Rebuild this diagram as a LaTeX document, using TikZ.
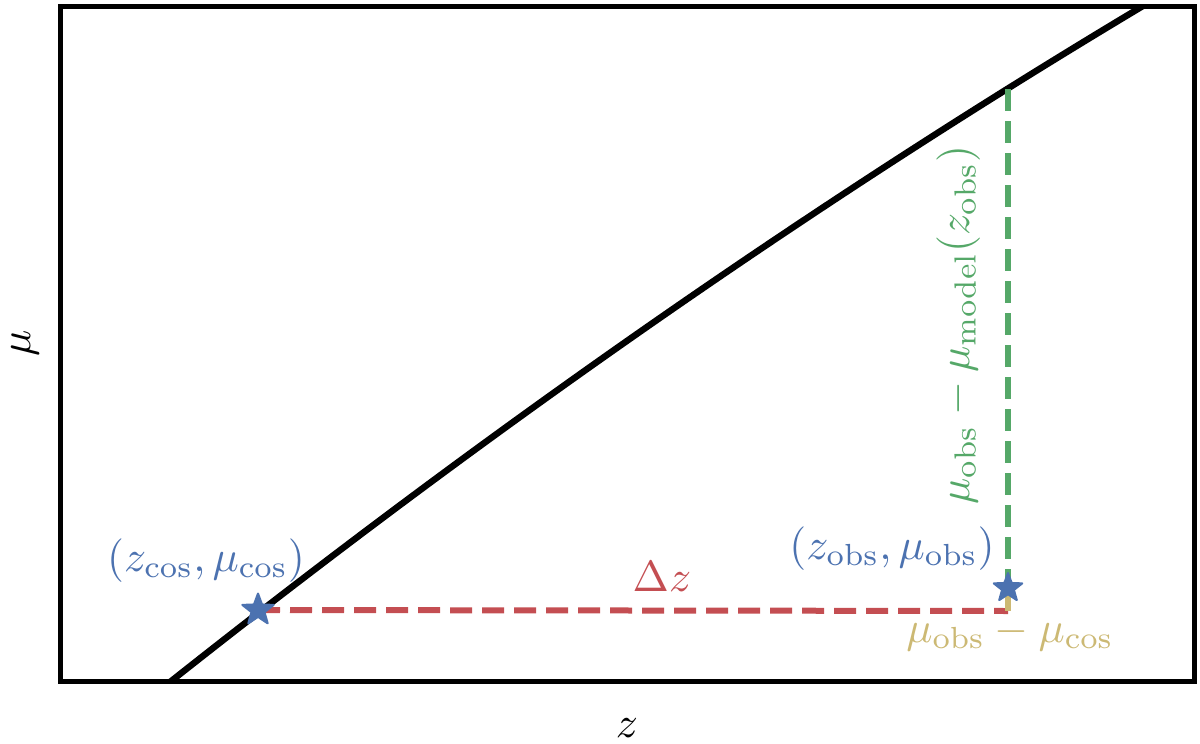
\documentclass[tikz,border=0pt]{standalone}
\usetikzlibrary{shapes.geometric}
\definecolor{sbblue}{RGB}{76,114,176}
\definecolor{sbred}{RGB}{196,78,82}
\definecolor{sbgreen}{RGB}{85,168,104}
\definecolor{sbgold}{RGB}{204,185,116}
\tikzset{
  lab/.style={inner sep=0pt, scale=2.18},
  starmark/.style={star, star points=5, star point ratio=2.4, minimum size=16.5pt,
    inner sep=0pt, fill=sbblue, draw=sbblue, line width=1pt, line join=round},
  dashline/.style={line width=3pt, dash pattern=on 11pt off 5pt},
}
\begin{document}
\begin{tikzpicture}[x=0.5pt,y=-0.5pt]
\useasboundingbox (0,0) rectangle (1200,744);
% coordinates
\coordinate (cospt) at (258,610);
\coordinate (obspt) at (1008,588);
\coordinate (corner) at (1008,611);
\coordinate (modpt) at (1008,89);
% model curve
\begin{scope}
\clip (60,6) rectangle (1194,682);
\draw[line width=3.2pt] plot[domain=-0.2:9.9, samples=80, smooth]
  ({170+100*\x}, {682 - 79.21*\x + \x*\x});
\end{scope}
% frame
\draw[line width=2.5pt] (60,6) rectangle (1194,681);
% guide lines
\draw[dashline, sbred] (cospt) -- (corner);
\draw[dashline, sbgreen] (modpt) -- (obspt);
\draw[line width=3pt, sbgold] (obspt) -- (corner);
% stars
\node[starmark] (cos) at (cospt) {};
\node[starmark, minimum size=15pt] (obs) at (obspt) {};
% labels
\node[lab, text=sbblue, anchor=base] (coslab) at (206,571) {$(z_{\mathrm{cos}},\mu_{\mathrm{cos}})$};
\node[lab, text=sbblue, anchor=base] (obslab) at (892,559) {$(z_{\mathrm{obs}},\mu_{\mathrm{obs}})$};
\node[lab, text=sbred, anchor=base] (dz) at (662,591) {$\Delta z$};
\node[lab, text=sbgold, anchor=base] (dmu) at (1010,642) {$\mu_{\mathrm{obs}}-\mu_{\mathrm{cos}}$};
\node[lab, text=sbgreen, anchor=base, rotate=90] (dmod) at (969,325) {$\mu_{\mathrm{obs}}-\mu_{\mathrm{model}}(z_{\mathrm{obs}})$};
\node[lab, anchor=base] (xlab) at (627,737) {$z$};
\node[lab, rotate=90] (ylab) at (25,343) {$\mu$};
\end{tikzpicture}
\end{document}
